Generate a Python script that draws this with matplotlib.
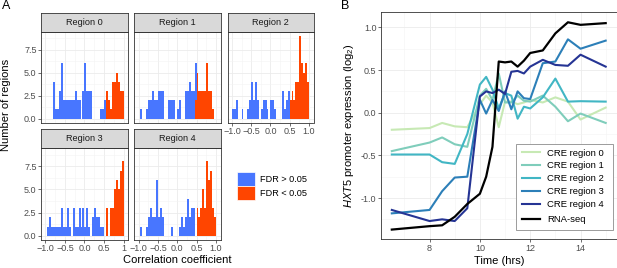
import numpy as np
import matplotlib
matplotlib.use("Agg")
import matplotlib.pyplot as plt
from matplotlib.patches import Patch, Rectangle
from matplotlib.ticker import FormatStrFormatter

plt.rcParams['font.family'] = ['Liberation Sans', 'DejaVu Sans']
plt.rcParams['mathtext.fontset'] = 'custom'
plt.rcParams['mathtext.rm'] = 'Liberation Sans'
plt.rcParams['mathtext.it'] = 'Liberation Sans:italic'

# ---- panel A data: counts per 0.05 bin from -1.0 to 1.0 ----
bin_left = np.round(np.arange(-1.0, 1.0, 0.05), 3)
region_names = ["Region 0", "Region 1", "Region 2", "Region 3", "Region 4"]

blue0 = [0,0,0,0,4,1,1,3,6,2, 2,2,2,2,2,3,2,2,0,3, 6,3,3,3,0,0,0,0,1,1, 2,0,0,0,0,0,0,0,0,0]
red0  = [0,0,0,0,0,0,0,0,0,0, 0,0,0,0,0,0,0,0,0,0, 0,0,0,0,0,0,0,0,0,0, 0,3,2,1,4,4,5,4,3,3]
blue1 = [0,1,0,0,1,2,2,3,2,2, 3,3,3,0,0,2,2,2,2,0, 1,2,0,0,3,3,4,3,3,4, 0,0,0,0,0,0,0,0,0,0]
red1  = [0,0,0,0,0,0,0,0,0,0, 0,0,0,0,0,0,0,0,0,0, 0,0,0,0,0,0,0,0,0,2, 5,3,3,3,3,6,3,3,1,0]
blue2 = [1,1,2,0,0,1,0,0,1,2, 4,2,4,2,0,1,2,2,1,0, 2,2,1,0,0,0,3,1,2,3, 0,0,0,0,0,0,0,0,0,0]
red2  = [0,0,0,0,0,0,0,0,0,0, 0,0,0,0,0,0,0,0,0,0, 0,0,0,0,0,0,0,0,0,0, 2,3,2,4,4,9,6,5,6,4]
blue3 = [0,1,2,1,1,1,1,1,3,1, 1,3,1,0,3,1,1,3,1,3, 1,3,1,0,2,3,2,2,1,1, 0,0,0,0,0,0,0,0,0,0]
red3  = [0,0,0,0,0,0,0,0,0,0, 0,0,0,0,0,0,0,0,0,0, 0,0,0,0,0,0,0,0,0,0, 0,3,0,3,3,5,6,5,7,8]
blue4 = [0,1,0,0,1,2,3,2,2,6, 2,3,2,0,0,0,0,1,0,0, 0,1,2,1,2,4,2,3,3,0, 0,0,0,0,0,0,0,0,0,0]
red4  = [0,0,0,0,0,0,0,0,0,0, 0,0,0,0,0,0,0,0,0,0, 0,0,0,0,0,0,0,0,0,0, 3,2,3,5,3,8,6,7,3,2]

blues = [blue0, blue1, blue2, blue3, blue4]
reds = [red0, red1, red2, red3, red4]

# ---- panel B data ----
times = [6.5, 8, 8.5, 9, 9.5, 10, 10.25, 10.5, 10.75, 11, 11.25, 11.5, 11.75, 12, 12.5, 13, 13.5, 14, 15]
cre0 = [-0.20, -0.18, -0.12, -0.16, -0.17, 0.10, 0.20, 0.12, -0.17, 0.13, 0.13, 0.10, 0.12, 0.15, 0.12, 0.18, 0.13, -0.08, 0.06]
cre1 = [-0.45, -0.35, -0.29, -0.37, -0.40, 0.20, 0.28, 0.15, 0.46, 0.12, 0.12, 0.20, 0.14, 0.13, 0.20, 0.07, -0.10, -0.01, -0.12]
cre2 = [-0.49, -0.49, -0.58, -0.60, -0.25, 0.33, 0.42, 0.27, 0.05, 0.23, 0.20, -0.07, 0.07, 0.05, 0.18, 0.40, 0.13, 0.135, 0.13]
cre3 = [-1.18, -1.14, -0.92, -0.76, -0.75, 0.15, -0.01, 0.15, 0.02, 0.25, 0.04, 0.25, 0.17, 0.16, 0.58, 0.60, 0.86, 0.75, 0.845]
cre4 = [-1.14, -1.27, -1.25, -1.27, -1.12, 0.19, 0.25, 0.23, 0.27, 0.22, 0.48, 0.49, 0.46, 0.54, 0.62, 0.56, 0.55, 0.68, 0.54]
rnaseq = [-1.37, -1.33, -1.32, -1.22, -1.07, -0.95, -0.75, -0.40, 0.60, 0.59, 0.60, 0.54, 0.61, 0.70, 0.73, 0.93, 1.06, 1.03, 1.05]

cre_series = [cre0, cre1, cre2, cre3, cre4]
cre_labels = ["CRE region 0", "CRE region 1", "CRE region 2", "CRE region 3", "CRE region 4"]
cre_colors = ["#c7e9b4", "#7fcdbb", "#41b6c4", "#2c7fb8", "#253494"]

BLUE = "#4876FF"
RED = "#FF4500"
W, H = 617, 268
fig = plt.figure(figsize=(W / 100, H / 100), dpi=100)


def px_axes(x0, y0, x1, y1):
    return fig.add_axes([x0 / W, 1 - y1 / H, (x1 - x0) / W, (y1 - y0) / H])


def style(ax):
    for s in ax.spines.values():
        s.set_color("#333333")
        s.set_linewidth(0.6)
    ax.grid(which="major", color="#ebebeb", lw=0.6)
    ax.grid(which="minor", color="#f3f3f3", lw=0.4)
    ax.set_axisbelow(True)
    ax.tick_params(which="major", length=2, width=0.5, color="#333333",
                   labelsize=6.5, labelcolor="#4d4d4d", pad=1.2)
    ax.tick_params(which="minor", length=0)


# ---- panel A ----
cols = [(41, 128.3), (134.3, 220.5), (227.7, 313.5)]
rows = [((12.7, 31.7), (31.7, 122.7)), ((129.3, 148), (148, 240))]
centers = bin_left + 0.025
for i in range(5):
    r, c = divmod(i, 3)
    (sy0, sy1), (py0, py1) = rows[r]
    x0, x1 = cols[c]
    ax = px_axes(x0, py0, x1, py1)
    style(ax)
    ax.bar(centers, reds[i], width=0.05, color=RED, linewidth=0)
    ax.bar(centers, blues[i], width=0.05, bottom=reds[i], color=BLUE, linewidth=0)
    ax.set_xlim(-1.11, 1.12)
    ax.set_ylim(-0.45, 9.45)
    ax.set_xticks([-1, -0.5, 0, 0.5, 1])
    ax.set_xticks([-0.75, -0.25, 0.25, 0.75], minor=True)
    ax.set_yticks([0, 2.5, 5, 7.5])
    ax.set_yticks([1.25, 3.75, 6.25, 8.75], minor=True)
    ax.set_yticklabels(["0.0", "2.5", "5.0", "7.5"])
    xl = ["\u22121.0", "\u22120.5", "0.0", "0.5", "1" if c == 0 else "1.0"]
    ax.set_xticklabels(xl)
    if c != 0:
        ax.tick_params(axis="y", which="major", length=0, labelleft=False)
    if r == 0 and c != 2:
        ax.tick_params(axis="x", which="major", length=0, labelbottom=False)
    sax = px_axes(x0, sy0, x1, sy1)
    sax.set_facecolor("#d9d9d9")
    sax.set_xticks([])
    sax.set_yticks([])
    for s in sax.spines.values():
        s.set_color("#333333")
        s.set_linewidth(0.6)
    sax.text(0.5, 0.5, region_names[i], ha="center", va="center",
             fontsize=6.6, color="#1a1a1a", transform=sax.transAxes)

fig.text(177 / W, 1 - 260 / H, "Correlation coefficient", ha="center", va="center", fontsize=8)
fig.text(6 / W, 1 - 105 / H, "Number of regions", ha="center", va="center",
         rotation=90, fontsize=8)
fig.legend(handles=[Patch(facecolor=BLUE, edgecolor="white", lw=0.5),
                    Patch(facecolor=RED, edgecolor="white", lw=0.5)],
           labels=["FDR > 0.05", "FDR < 0.05"], loc="upper left",
           bbox_to_anchor=(237 / W, 1 - 172 / H), frameon=False,
           handlelength=1.95, handleheight=1.95, labelspacing=0.0,
           handletextpad=0.6, borderpad=0, borderaxespad=0, fontsize=6.6)
fig.text(2 / W, 1 - 6 / H, "A", ha="left", va="center", fontsize=9)
fig.text(341 / W, 1 - 6 / H, "B", ha="left", va="center", fontsize=9)

# ---- panel B ----
bx = px_axes(381, 12.3, 616.5, 239.3)
style(bx)
for vals, lab, col in zip(cre_series, cre_labels, cre_colors):
    bx.plot(times, vals, color=col, lw=1.5, label=lab)
bx.plot(times, rnaseq, color="black", lw=1.6, label="RNA-seq")
bx.set_xlim(6.07, 15.43)
bx.set_ylim(-1.484, 1.177)
bx.set_xticks([8, 10, 12, 14])
bx.set_xticks([7, 9, 11, 13, 15], minor=True)
bx.set_yticks([-1, -0.5, 0, 0.5, 1])
bx.set_yticks([-1.25, -0.75, -0.25, 0.25, 0.75], minor=True)
bx.yaxis.set_major_formatter(FormatStrFormatter("%.1f"))
bx.set_xlabel("Time (hrs)", fontsize=8, labelpad=2)
bx.set_ylabel(r"$\it{HXT5}$ promoter expression (log$_2$)", fontsize=8)
bx.yaxis.set_label_coords(-0.105, 0.5)


def ax_x(px):
    return (px - 381) / 235.5


def ax_y(py):
    return 1 - (py - 12.3) / 227


bx.add_patch(Rectangle((ax_x(516), ax_y(229.7)), ax_x(613) - ax_x(516), ax_y(144) - ax_y(229.7),
                       transform=bx.transAxes, facecolor="white", edgecolor="#8c8c8c",
                       lw=0.6, zorder=5))
handles = bx.get_lines()
leg1 = bx.legend(handles=handles[:5], loc="upper left", bbox_to_anchor=(ax_x(522), ax_y(148.5)),
                 frameon=False, fontsize=6.8, handlelength=1.9, handletextpad=0.75,
                 labelspacing=0.42, borderpad=0, borderaxespad=0)
leg1.set_zorder(6)
bx.add_artist(leg1)
leg2 = bx.legend(handles=handles[5:], loc="upper left", bbox_to_anchor=(ax_x(522), ax_y(215.5)),
                 frameon=False, fontsize=6.8, handlelength=1.9, handletextpad=0.75,
                 borderpad=0, borderaxespad=0)
leg2.set_zorder(6)

fig.savefig("out.png", dpi=100)
